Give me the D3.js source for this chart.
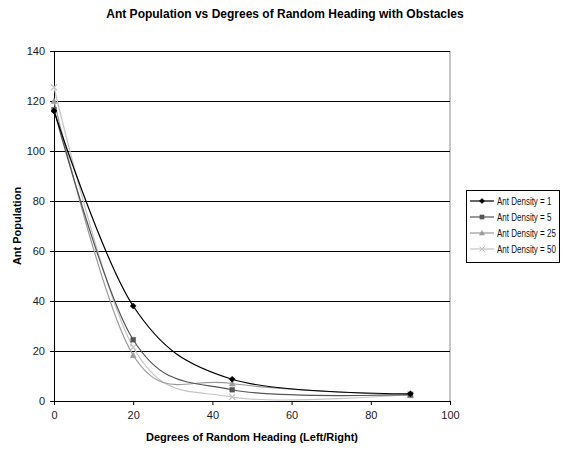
<!DOCTYPE html>
<html>
<head>
<meta charset="utf-8">
<script src="https://cdn.jsdelivr.net/npm/d3@7"></script>
<style>
  html, body { margin: 0; padding: 0; background: #fff; }
  svg { display: block; font-family: "Liberation Sans", Arial, sans-serif; }
</style>
</head>
<body>
<svg id="chart" width="561" height="449"></svg>
<script>
// Degrees of random heading sampled in the runs
const headings = [0, 20, 45, 90];

// Surviving ant population for each starting density
const density1  = [116, 38, 8.7, 2.9];
const density5  = [116.5, 24.5, 4.5, 2.6];
const density25 = [120, 18.3, 7, 2.2];
const density50 = [125.5, 21.5, 1.6, 2.6];

const seriesNames = ["Ant Density = 1", "Ant Density = 5", "Ant Density = 25", "Ant Density = 50"];
const yTicks = [0, 20, 40, 60, 80, 100, 120, 140];
const xTicks = [0, 20, 40, 60, 80, 100];

const seriesValues = [density1, density5, density25, density50];
const colors = ["#000000", "#555555", "#9a9a9a", "#c4c4c4"];
const shapes = ["diamond", "square", "triangle", "cross"];

const svg = d3.select("#chart");
const margin = { left: 54, right: 111, top: 51, bottom: 48 };
const W = 561, H = 449;

const x = d3.scaleLinear().domain([0, 100]).range([margin.left, W - margin.right]);
const y = d3.scaleLinear().domain([0, 140]).range([H - margin.bottom, margin.top]);

// Title
svg.append("text")
  .attr("x", 285).attr("y", 18)
  .attr("text-anchor", "middle")
  .attr("font-size", 12).attr("font-weight", "bold")
  .text("Ant Population vs Degrees of Random Heading with Obstacles");

// Plot area frame (right edge)
svg.append("line")
  .attr("x1", x(100)).attr("x2", x(100))
  .attr("y1", y(140)).attr("y2", y(0))
  .attr("stroke", "#8c8c8c").attr("stroke-width", 1);

// Horizontal gridlines
svg.append("g").selectAll("line")
  .data(yTicks.filter(d => d > 0))
  .join("line")
  .attr("x1", x(0)).attr("x2", x(100))
  .attr("y1", d => Math.round(y(d)) + 0.5).attr("y2", d => Math.round(y(d)) + 0.5)
  .attr("stroke", "#000").attr("stroke-width", 1);

// Axes
const yAxis = svg.append("g")
  .attr("transform", `translate(${x(0)},0)`)
  .call(d3.axisLeft(y).tickValues(yTicks).tickSize(4).tickPadding(5));
const xAxis = svg.append("g")
  .attr("transform", `translate(0,${y(0)})`)
  .call(d3.axisBottom(x).tickValues(xTicks).tickSize(4).tickPadding(6));
[yAxis, xAxis].forEach(g => {
  g.select(".domain").attr("stroke", "#000");
  g.selectAll(".tick line").attr("stroke", "#000");
  g.selectAll(".tick text")
    .attr("font-family", "Liberation Sans, Arial, sans-serif")
    .attr("font-size", 11).attr("fill", "#222");
});

// Axis titles
svg.append("text")
  .attr("x", (x(0) + x(100)) / 2).attr("y", 441)
  .attr("text-anchor", "middle")
  .attr("font-size", 11).attr("font-weight", "bold")
  .text("Degrees of Random Heading (Left/Right)");
svg.append("text")
  .attr("transform", `translate(21,${(y(0) + y(140)) / 2}) rotate(-90)`)
  .attr("text-anchor", "middle")
  .attr("font-size", 11).attr("font-weight", "bold")
  .text("Ant Population");

// Marker paths
function markerPath(shape, s) {
  switch (shape) {
    case "diamond": return `M0,${-s}L${s},0L0,${s}L${-s},0Z`;
    case "square": return `M${-s*0.8},${-s*0.8}h${s*1.6}v${s*1.6}h${-s*1.6}Z`;
    case "triangle": return `M0,${-s}L${s},${s*0.8}L${-s},${s*0.8}Z`;
    case "cross": return `M${-s},${-s}L${s},${s}M${-s},${s}L${s},${-s}`;
  }
}

// Smoothed series lines
const line = d3.line()
  .x(d => x(d[0])).y(d => y(d[1]))
  .curve(d3.curveCardinal.tension(0));

const plot = svg.append("g");
// draw lightest first so darker lines sit on top
for (let i = seriesValues.length - 1; i >= 0; i--) {
  const pts = headings.map((h, j) => [h, seriesValues[i][j]]);
  plot.append("path")
    .attr("d", line(pts))
    .attr("fill", "none")
    .attr("stroke", colors[i]).attr("stroke-width", 1.2);
  plot.selectAll(null).data(pts).join("path")
    .attr("transform", d => `translate(${x(d[0])},${y(d[1])})`)
    .attr("d", markerPath(shapes[i], 3))
    .attr("fill", shapes[i] === "cross" ? "none" : colors[i])
    .attr("stroke", colors[i]).attr("stroke-width", shapes[i] === "cross" ? 1.2 : 0.5);
}

// Legend
const legend = svg.append("g");
legend.append("rect")
  .attr("x", 466.5).attr("y", 190.5).attr("width", 93).attr("height", 72)
  .attr("fill", "#fff").attr("stroke", "#000");
seriesNames.forEach((name, i) => {
  const ly = 201 + i * 16;
  legend.append("line")
    .attr("x1", 470).attr("x2", 494).attr("y1", ly).attr("y2", ly)
    .attr("stroke", colors[i]).attr("stroke-width", 1.2);
  legend.append("path")
    .attr("transform", `translate(482,${ly})`)
    .attr("d", markerPath(shapes[i], 2.6))
    .attr("fill", shapes[i] === "cross" ? "none" : colors[i])
    .attr("stroke", colors[i]).attr("stroke-width", shapes[i] === "cross" ? 1 : 0.5);
  // condensed label, squeezed horizontally
  legend.append("text")
    .attr("transform", `translate(497,${ly + 4}) scale(0.8,1)`)
    .attr("font-size", 10).attr("fill", "#111")
    .text(name);
});
</script>
</body>
</html>
